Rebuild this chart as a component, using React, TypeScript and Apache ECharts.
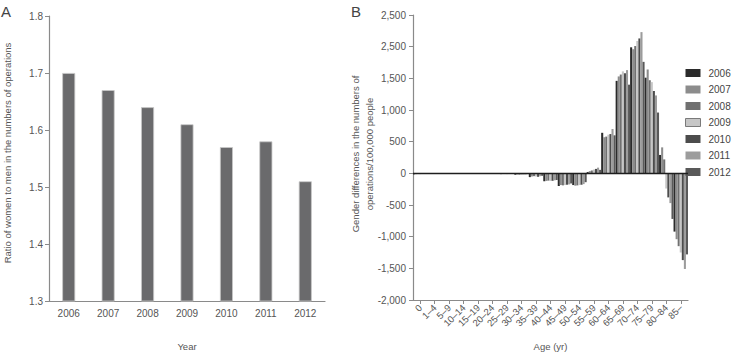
import React, { useEffect, useRef } from "react";
import * as echarts from "echarts";

// Panel A: ratio of women to men in the number of operations, by year
const years = ["2006", "2007", "2008", "2009", "2010", "2011", "2012"];
const ratio = [1.7, 1.67, 1.64, 1.61, 1.57, 1.58, 1.51];

// Panel B: gender difference per 100,000 people, by age group and year
const ageGroups = [
  "0", "1–4", "5–9", "10–14", "15–19", "20–24", "25–29", "30–34", "35–39",
  "40–44", "45–49", "50–54", "55–59", "60–64", "65–69", "70–74", "75–79",
  "80–84", "85–",
];
const diff2006 = [-15, -6, -4, -5, -8, -10, -12, -22, -60, -125, -200, -185, 20, 640, 1460, 1990, 1510, 290, -920];
const diff2007 = [-12, -5, -3, -4, -6, -8, -10, -18, -50, -120, -185, -195, 35, 570, 1530, 1960, 1640, 410, -1040];
const diff2008 = [-10, -4, -3, -4, -6, -8, -10, -20, -45, -115, -190, -190, 45, 580, 1560, 2010, 1470, 220, -1150];
const diff2009 = [-12, -5, -4, -5, -7, -9, -12, -25, -50, -120, -185, -185, 60, 610, 1610, 2090, 1440, -240, -1250];
const diff2010 = [-8, -4, -3, -4, -5, -7, -9, -15, -55, -118, -180, -180, 70, 620, 1580, 2130, 1300, -380, -1370];
const diff2011 = [-10, -5, -3, -4, -6, -8, -10, -18, -45, -110, -175, -170, 90, 700, 1630, 2230, 1230, -470, -1510];
const diff2012 = [-8, -3, -2, -3, -5, -6, -8, -12, -40, -105, -160, -140, 55, 600, 1400, 1760, 960, -720, -1280];
const diffByYear = [diff2006, diff2007, diff2008, diff2009, diff2010, diff2011, diff2012];
const diffTickLabels = ["-2,000", "-1,500", "-1,000", "-500", "0", "500", "1,000", "1,500", "2,500", "2,500"];

const yearColors = ["#2b2b2b", "#8c8c8c", "#707070", "#c6c6c6", "#4c4c4c", "#9c9c9c", "#595959"];

const FONT = "'Liberation Sans', Arial, sans-serif";
const AXIS_GRAY = "#8a8a8a";
const TEXT_GRAY = "#555555";

export default function App() {
  const ref = useRef<HTMLDivElement>(null);

  useEffect(() => {
    if (!ref.current) return;
    const chart = echarts.init(ref.current, undefined, { renderer: "svg" });

    const axisLine = { show: true, lineStyle: { color: AXIS_GRAY, width: 1.2 } };
    const axisTick = { show: true, length: 4, lineStyle: { color: AXIS_GRAY } };
    const tickText = { color: TEXT_GRAY, fontSize: 10, fontFamily: FONT };

    const option: echarts.EChartsOption = {
      animation: false,
      backgroundColor: "#ffffff",
      textStyle: { fontFamily: FONT },
      grid: [
        { left: 49, top: 16, width: 276, height: 285 },
        { left: 413, top: 15, width: 275, height: 285 },
      ],
      xAxis: [
        {
          type: "category",
          gridIndex: 0,
          data: years,
          axisLine,
          axisTick: { show: false },
          axisLabel: { ...tickText, margin: 7 },
          name: "Year",
          nameLocation: "middle",
          nameGap: 40,
          nameTextStyle: { color: TEXT_GRAY, fontSize: 9.5, fontFamily: FONT },
        },
        {
          type: "category",
          gridIndex: 1,
          data: ageGroups,
          axisLine: { ...axisLine, onZero: false },
          axisTick: { ...axisTick, alignWithLabel: true },
          axisLabel: { ...tickText, fontSize: 9.5, rotate: 45, interval: 0, margin: 6 },
          name: "Age (yr)",
          nameLocation: "middle",
          nameGap: 41,
          nameTextStyle: { color: TEXT_GRAY, fontSize: 9.5, fontFamily: FONT },
        },
      ],
      yAxis: [
        {
          type: "value",
          gridIndex: 0,
          min: 1.3,
          max: 1.8,
          interval: 0.1,
          axisLine,
          axisTick,
          splitLine: { show: false },
          axisLabel: {
            ...tickText,
            margin: 6,
            formatter: (v: number) => v.toFixed(1),
          },
        },
        {
          type: "value",
          gridIndex: 1,
          min: -2000,
          max: 2500,
          interval: 500,
          axisLine,
          axisTick,
          splitLine: { show: false },
          axisLabel: {
            ...tickText,
            margin: 7,
            formatter: (v: number) => diffTickLabels[Math.round((v + 2000) / 500)] ?? "",
          },
        },
      ],
      legend: {
        data: years.map((y, i) =>
          i === 3
            ? { name: y, itemStyle: { borderColor: "#7a7a7a", borderWidth: 1 } }
            : { name: y }
        ),
        orient: "vertical",
        left: 685,
        top: 68,
        padding: 0,
        itemWidth: 15,
        itemHeight: 8,
        itemGap: 6.5,
        icon: "rect",
        selectedMode: false,
        textStyle: { color: "#444444", fontSize: 10, fontFamily: FONT, padding: [0, 0, 0, 3] },
      },
      series: [
        {
          name: "Ratio",
          type: "bar",
          xAxisIndex: 0,
          yAxisIndex: 0,
          data: ratio,
          barWidth: 13,
          itemStyle: { color: "#6a6a6c", borderColor: "#c8c8c8", borderWidth: 0.8 },
        },
        ...years.map((y, i) => ({
          name: y,
          type: "bar" as const,
          xAxisIndex: 1,
          yAxisIndex: 1,
          data: diffByYear[i],
          barGap: "0%",
          barCategoryGap: "0%",
          itemStyle: { color: yearColors[i] },
          ...(i === 0
            ? {
                markLine: {
                  silent: true,
                  symbol: ["none", "none"],
                  label: { show: false },
                  lineStyle: { color: "#1e1e1e", width: 1.3, type: "solid" as const },
                  data: [{ yAxis: 0 }],
                },
              }
            : {}),
        })),
      ],
      graphic: [
        {
          type: "text",
          left: 1,
          top: 4,
          style: { text: "A", fontSize: 15, fill: "#444444", fontFamily: FONT },
        },
        {
          type: "text",
          left: 351,
          top: 4,
          style: { text: "B", fontSize: 15, fill: "#444444", fontFamily: FONT },
        },
        {
          type: "text",
          x: 7.5,
          y: 153,
          rotation: Math.PI / 2,
          style: {
            text: "Ratio of women to men in the numbers of operations",
            fontSize: 9.5,
            fill: TEXT_GRAY,
            fontFamily: FONT,
            align: "center",
            verticalAlign: "middle",
          },
        },
        {
          type: "text",
          x: 355,
          y: 154,
          rotation: Math.PI / 2,
          style: {
            text: "Gender differences in the numbers of",
            fontSize: 9.5,
            fill: TEXT_GRAY,
            fontFamily: FONT,
            align: "center",
            verticalAlign: "middle",
          },
        },
        {
          type: "text",
          x: 369,
          y: 154,
          rotation: Math.PI / 2,
          style: {
            text: "operations/100,000 people",
            fontSize: 9.5,
            fill: TEXT_GRAY,
            fontFamily: FONT,
            align: "center",
            verticalAlign: "middle",
          },
        },
      ],
    };

    chart.setOption(option);
    return () => chart.dispose();
  }, []);

  return (
    <div
      ref={ref}
      style={{ position: "absolute", left: 0, top: 0, width: 732, height: 359 }}
    />
  );
}
